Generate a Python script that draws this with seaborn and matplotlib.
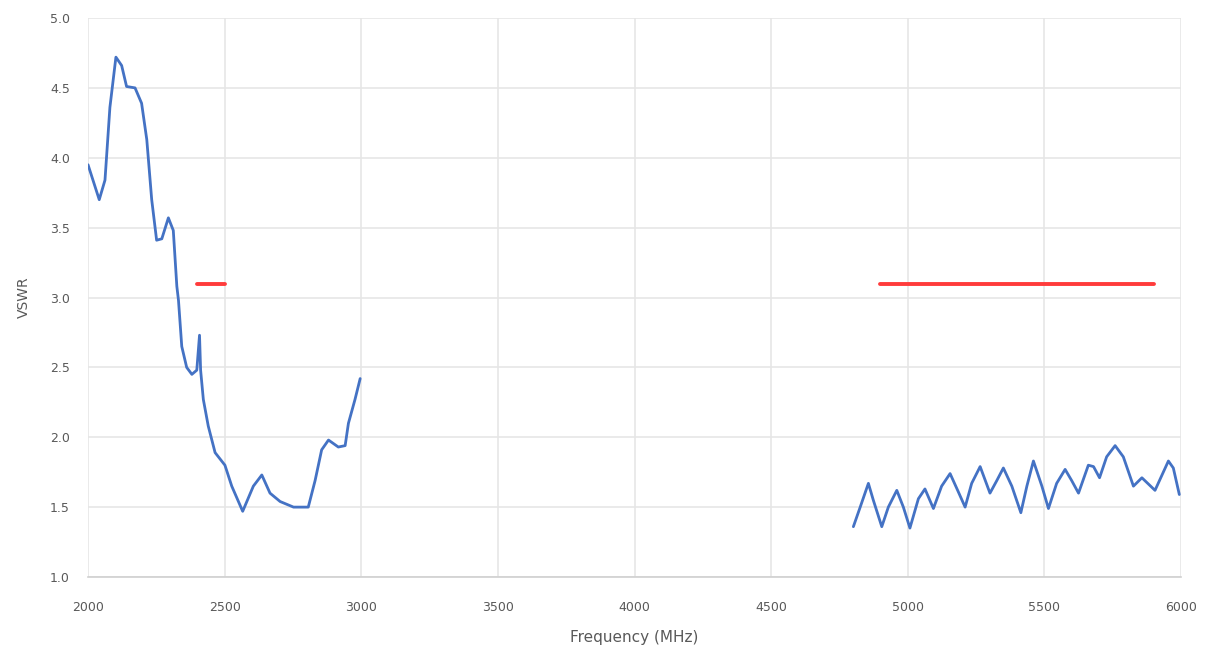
import numpy as np
import pandas as pd
import matplotlib
matplotlib.use("Agg")
import matplotlib.pyplot as plt
import seaborn as sns

# low band measurement (MHz, VSWR)
low_freq = [2000, 2041, 2062, 2080, 2102, 2123, 2141, 2172, 2196, 2215, 2233, 2251,
            2270, 2294, 2312, 2325, 2331, 2343, 2361, 2380, 2398, 2408, 2412, 2422,
            2440, 2465, 2501, 2526, 2566, 2605, 2636, 2666, 2703, 2752, 2806, 2831,
            2855, 2880, 2916, 2941, 2953, 2977, 2996]
low_vswr = [3.95, 3.70, 3.84, 4.36, 4.72, 4.66, 4.51, 4.50, 4.39, 4.13, 3.70, 3.41,
            3.42, 3.57, 3.48, 3.08, 2.98, 2.65, 2.50, 2.45, 2.48, 2.73, 2.48, 2.27,
            2.08, 1.89, 1.80, 1.65, 1.47, 1.65, 1.73, 1.60, 1.54, 1.50, 1.50, 1.69,
            1.91, 1.98, 1.93, 1.94, 2.10, 2.27, 2.42]

# high band measurement
high_freq = [4801, 4826, 4856, 4874, 4905, 4929, 4960, 4984, 5008, 5039, 5063, 5094,
             5124, 5155, 5185, 5210, 5234, 5265, 5301, 5326, 5350, 5381, 5414, 5436,
             5460, 5491, 5515, 5545, 5576, 5600, 5625, 5661, 5680, 5702, 5728, 5759,
             5789, 5826, 5857, 5905, 5954, 5972, 5994]
high_vswr = [1.36, 1.50, 1.67, 1.55, 1.36, 1.50, 1.62, 1.50, 1.35, 1.56, 1.63, 1.49,
             1.65, 1.74, 1.61, 1.50, 1.67, 1.79, 1.60, 1.69, 1.78, 1.65, 1.46, 1.65,
             1.83, 1.65, 1.49, 1.67, 1.77, 1.69, 1.60, 1.80, 1.79, 1.71, 1.86, 1.94,
             1.86, 1.65, 1.71, 1.62, 1.83, 1.78, 1.59]

# spec limit lines
limit_bands = [(2400, 2500), (4900, 5900)]
limit_vswr = 3.1

sns.set_style("white")
fig = plt.figure(figsize=(12.11, 6.55), dpi=100)
ax = fig.add_axes([0.0727, 0.1191, 0.9025, 0.8534])

blue = "#4472C4"
for f, v in [(low_freq, low_vswr), (high_freq, high_vswr)]:
    d = pd.DataFrame({"f": f, "v": v})
    sns.lineplot(data=d, x="f", y="v", ax=ax, color=blue, lw=2.0,
                 estimator=None, sort=False)
for lo, hi in limit_bands:
    d = pd.DataFrame({"f": [lo, hi], "v": [limit_vswr, limit_vswr]})
    sns.lineplot(data=d, x="f", y="v", ax=ax, color="#FF3B3B", lw=2.8,
                 estimator=None, sort=False)

ax.set_xlim(2000, 6000)
ax.set_ylim(1.0, 5.0)
ax.set_xticks(np.arange(2000, 6001, 500))
ax.set_yticks(np.arange(1.0, 5.01, 0.5))
ax.set_yticklabels([f"{t:.1f}" for t in np.arange(1.0, 5.01, 0.5)])
ax.grid(True, color="#E6E6E6", lw=1.2)
ax.set_axisbelow(True)
for s in ["top", "right", "left"]:
    ax.spines[s].set_visible(False)
ax.spines["bottom"].set_color("#D0D0D0")
ax.spines["bottom"].set_linewidth(1.2)
ax.tick_params(axis="x", length=0, labelsize=9, colors="#595959", pad=17)
ax.tick_params(axis="y", length=0, labelsize=9, colors="#595959", pad=13)
ax.set_xlabel("Frequency (MHz)", fontsize=11, color="#595959", labelpad=12)
ax.set_ylabel("VSWR", fontsize=10, color="#595959", labelpad=14)

fig.savefig("out.png", dpi=100)
